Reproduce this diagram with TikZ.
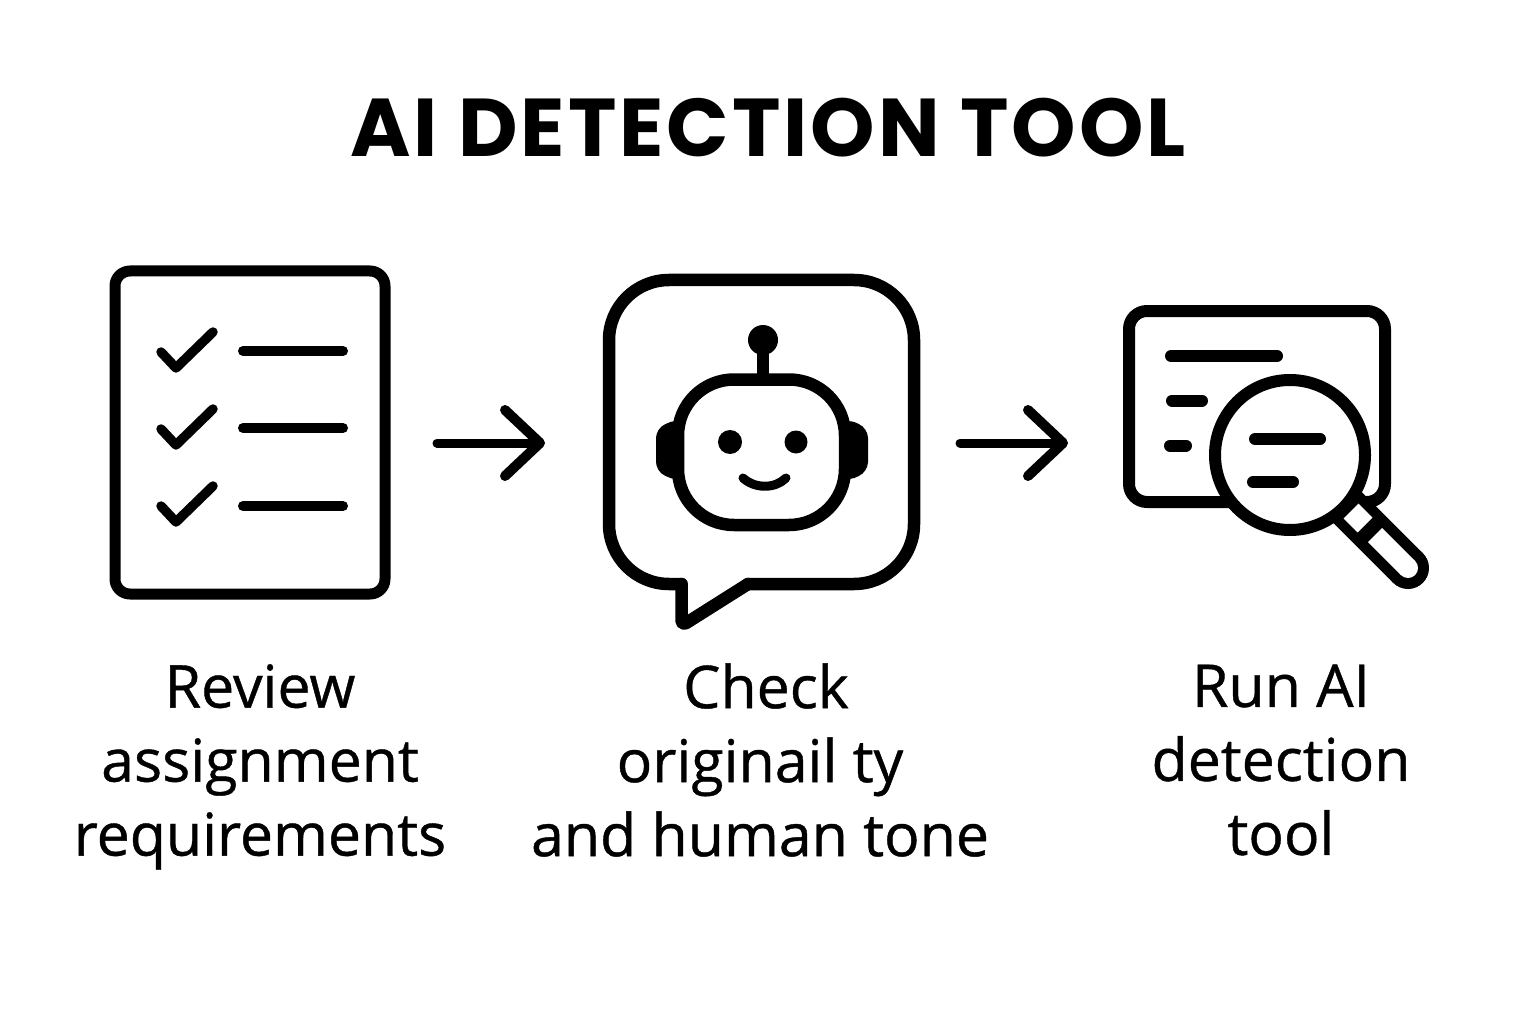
\documentclass[tikz,border=0pt]{standalone}
\usepackage{fontspec}
\setmainfont{Open Sans}[Ligatures=NoCommon,FakeBold=0.7]
\newfontfamily\titlefont{Poppins}[LetterSpace=3.6]
\usetikzlibrary{arrows.meta}
\tikzset{
  sk/.style={draw=black,line width=#1,line join=round,line cap=round},
  sk/.default=11pt,
  flow/.style={black,line width=9pt,line cap=round,-{Straight Barb[length=35pt,width=66pt,line width=10pt,round]}},
  lab/.style={align=center,font=\fontsize{59}{74}\selectfont,inner sep=0pt},
  ttl/.style={font=\titlefont\bfseries\fontsize{82}{82}\selectfont,inner sep=0pt}
}
\begin{document}
\begin{tikzpicture}[x=1pt,y=-1pt]
\useasboundingbox (0,0) rectangle (1536,1024);
\fill[white] (0,0) rectangle (1536,1024);
\node[ttl,anchor=base] (title) at (768,157) {AI DETECTION TOOL};
% checklist icon
\draw[sk,rounded corners=15pt] (115,271) rectangle (385,594);
\foreach \yy/\cy in {351/0,428/77,506/154}{
  \draw[sk=10pt] (243,\yy) -- (343,\yy);
  \draw[sk=9.5pt] (161,352+\cy) -- (176,368+\cy) -- (213,332+\cy);
}
% bubble
\draw[sk=12.5pt,rounded corners=60pt] (681.5,584) -- (609,584) -- (609,280) -- (914,280) -- (914,584) -- (748,584);
\draw[sk=12.5pt,rounded corners=6pt] (681.5,584) -- (681.5,626) -- (748,584);
% robot
\fill[black,rounded corners=10pt] (680,418) -- (656,428) -- (656,472) -- (680,482) -- cycle;
\fill[black,rounded corners=10pt] (845,418) -- (868,428) -- (868,472) -- (845,482) -- cycle;
\draw[sk=12pt] (763,340) -- (763,380);
\fill[black] (763,340) circle (15);
\draw[sk=12.5pt,fill=white,rounded corners=56pt] (678,379.5) rectangle (845,525);
\fill[black] (730,442) circle (12);
\fill[black] (796,442) circle (11.5);
\draw[sk=9pt] (743,478) .. controls (755,489) and (775,489) .. (786,478);
% arrows
\coordinate (a1s) at (437,443);
\coordinate (a1e) at (545,443);
\coordinate (a2s) at (960,443);
\coordinate (a2e) at (1068,443);
\draw[flow] (a1s) -- (a1e);
\draw[flow] (a2s) -- (a2e);
% window
\draw[sk=12pt,rounded corners=18pt] (1129,311) rectangle (1385,502);
\draw[sk=12pt] (1171,356) -- (1277,356);
\draw[sk=12pt] (1172,400.5) -- (1202,400.5);
\draw[sk=12pt] (1170,445.5) -- (1186,445.5);
% handle
\draw[black,line width=42pt] (1345,505) -- (1408,568);
\fill[black] (1408,568) circle (21);
\draw[white,line width=21pt] (1351,511) -- (1365,525);
\draw[white,line width=20pt] (1375,535) -- (1408,568);
\fill[white] (1408,568) circle (10);
% lens
\draw[sk=12pt,fill=white] (1290,455) circle (75);
\draw[sk=12pt] (1255,439) -- (1320,439);
\draw[sk=12pt] (1253,482) -- (1293,482);
% labels
\node[lab,anchor=center] (l1) at (260,767) {Review\\assignment\\requirements};
\node[lab,anchor=center] (l2) at (760,760) {\hspace*{12pt}Check\\originail ty\\and human tone};
\node[lab,anchor=center] (l3) at (1281,760) {Run AI\\detection\\tool};
\end{tikzpicture}
\end{document}
